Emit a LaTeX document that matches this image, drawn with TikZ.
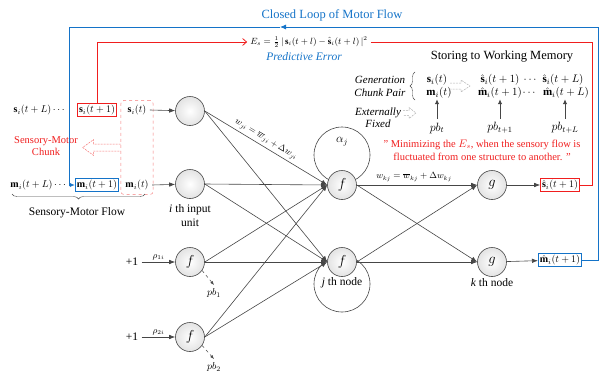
\documentclass[tikz,border=0pt]{standalone}
\usepackage{amsmath}
\usepackage{fontspec}
\setmainfont{Liberation Serif}
\usetikzlibrary{arrows.meta,calc,decorations.pathreplacing,fit,backgrounds}
\definecolor{lineg}{RGB}{70,70,70}
\definecolor{loopblue}{RGB}{20,115,200}
\definecolor{errred}{RGB}{240,30,30}
\definecolor{pinkd}{RGB}{245,120,120}
\begin{document}
\begin{tikzpicture}[x=1pt,y=-1pt,
  neuron/.style={circle,draw=lineg,line width=0.6pt,inner color=white,outer color=gray!22,minimum size=29pt,inner sep=0pt,font=\Large},
  conn/.style={draw=lineg,line width=0.6pt,-{Latex[length=6pt,width=4.5pt]}},
  redbox/.style={draw=errred,line width=0.8pt,inner sep=1.5pt},
  bluebox/.style={draw=loopblue,line width=0.8pt,inner sep=1.5pt},
  redline/.style={draw=errred,line width=0.8pt},
  blueline/.style={draw=loopblue,line width=0.8pt},
  hollow/.style={dashed,line width=0.5pt,dash pattern=on 2pt off 1pt},
  pbarrow/.style={draw=lineg,dashed,line width=0.5pt,-{Latex[length=4pt,width=3pt]}},
  uparrow/.style={draw=lineg,line width=1pt,-{Latex[length=5pt,width=4.5pt]}},
  txt/.style={font=\fontsize{11.5}{13}\selectfont},
  wmrow/.style={inner sep=0.5pt,font=\fontsize{11}{12}\selectfont},
  ]
\useasboundingbox (0,0) rectangle (602,375);

% title and loop
\node[text=loopblue,font=\fontsize{12.5}{14}\selectfont] (title) at (332,15) {Closed Loop of Motor Flow};

% left data
\node (sL) at (40,110) {$\mathbf{s}_i(t+L)\cdots$};
\node[redbox] (s1) at (97,110) {$\mathbf{s}_i(t+1)$};
\node (st) at (137,110) {$\mathbf{s}_i(t)$};
\node (mL) at (39,185) {$\mathbf{m}_i(t+L)\cdots$};
\node[bluebox] (m1) at (97,185) {$\mathbf{m}_i(t+1)$};
\node (mt) at (137,185) {$\mathbf{m}_i(t)$};
\node[fit=(st)(mt),draw=pinkd,dashed,rounded corners=3pt,inner sep=1pt,line width=0.5pt] (chunk) {};
\draw[pinkd,hollow] ($(chunk.west)+(0,-3.5)$) -- ++(-27,0) -- ++(0,-4.5) -- ++(-11,8) -- ++(11,8) -- ++(0,-4.5) -- ++(27,0);
\node[text=errred,align=center,font=\fontsize{10.5}{12}\selectfont] (chtxt) at (46,146) {Sensory-Motor\\Chunk};
\draw[lineg,decorate,decoration={brace,mirror,amplitude=5pt}] (12,194) -- (145,194);
\node[txt] (flow) at (77,213) {Sensory-Motor Flow};

% neurons
\node[neuron] (in1) at (190,111) {};
\node[neuron] (in2) at (190,184) {};
\node[neuron] (b1) at (190,262) {$f$};
\node[neuron] (b2) at (190,337) {$f$};
\node[neuron] (h1) at (342,185) {$f$};
\node[neuron] (h2) at (342,262) {$f$};
\node[neuron] (o1) at (492,185) {$g$};
\node[neuron] (o2) at (492,262) {$g$};

\begin{scope}[on background layer]
\draw[lineg,line width=0.6pt] ($(h1)+(0,-30)$) circle[radius=28pt];
\draw[lineg,line width=0.6pt] ($(h2)+(0,22)$) circle[radius=28pt];
\end{scope}
\node[font=\large] (alpha) at (342,142) {$\alpha_j$};
\node[txt] (jth) at (342,283) {\textit{j} th node};
\node[txt] (kth) at (492,283) {\textit{k} th node};
\node[txt,align=center] (ith) at (190,216) {\textit{i} th input\\[1pt]unit};

\draw[conn] (st.east) -- (in1);
\draw[conn] (mt.east) -- (in2);
\node[txt] (p1) at (132,262) {+1};
\node[txt] (p2) at (132,337) {+1};
\draw[conn] (p1.east) -- node[above,font=\small,inner sep=1pt] {$\rho_{1i}$} (b1);
\draw[conn] (p2.east) -- node[above,font=\small,inner sep=1pt] {$\rho_{2i}$} (b2);
\node (pb1) at (214,293) {$pb_1$};
\node (pb2) at (214,367) {$pb_2$};
\draw[pbarrow] (b1.-35) -- (pb1.north);
\draw[pbarrow] (b2.-35) -- (pb2.north);

\foreach \s in {in1,in2,b1,b2}{
  \draw[conn] (\s.east) -- (h1.west);
  \draw[conn] (\s.east) -- (h2.west);
}
\foreach \s in {h1,h2}{
  \draw[conn] (\s.east) -- (o1.west);
  \draw[conn] (\s.east) -- (o2.west);
}
\path (in1.east) -- node[sloped,above,pos=0.47,font=\small,inner sep=3pt] {$w_{ji}=\overline{w}_{ji}+\Delta w_{ji}$} (h1.west);
\node[font=\small] (wkj) at (414,177) {$w_{kj}=\overline{w}_{kj}+\Delta w_{kj}$};

\node[redbox] (sh) at (560,185) {$\hat{\mathbf{s}}_i(t+1)$};
\node[bluebox] (mh) at (560,260) {$\hat{\mathbf{m}}_i(t+1)$};
\draw[conn] (o1) -- (sh);
\draw[conn] (o2) -- (mh);

% error path
\node[font=\small,inner sep=3pt] (Es) at (309,42) {$E_s=\tfrac{1}{2}\,|\,\mathbf{s}_i(t+l)-\hat{\mathbf{s}}_i(t+l)\,|^2$};
\node[text=loopblue,font=\fontsize{11.5}{13}\selectfont\itshape] (pe) at (304,57) {Predictive Error};
\coordinate (rr) at (592,185);
\draw[redline,-{Straight Barb[length=4pt,width=7pt]}] (s1.north) |- (Es.west);
\draw[redline] (Es.east) -| (rr) -- (sh.east);

% closed loop
\coordinate (tr) at (598,27);
\coordinate (tm) at (280,27);
\coordinate (tl) at (69,27);
\draw[blueline,-{Latex[length=6pt,width=5pt]}] (mh.east) -| (tr) -- (tm);
\draw[blueline,-{Latex[length=5pt,width=4pt]}] (tm) -- (tl) |- (m1.west);

% working memory
\node[font=\fontsize{12.5}{14}\selectfont] (wm) at (502,57) {Storing to Working Memory};
\node[txt,font=\fontsize{11}{13}\selectfont\itshape,align=center] (gen) at (380,86) {Generation\\Chunk Pair};
\draw[lineg,decorate,decoration={brace,amplitude=5pt}] (415,100) -- (415,72);
\node[wmrow] (wst) at (437,80) {$\mathbf{s}_i(t)$};
\node[wmrow] (wmt) at (439,93) {$\mathbf{m}_i(t)$};
\draw[gray!60,hollow] (450,83) -- ++(11,0) -- ++(0,-3) -- ++(9,6) -- ++(-9,6) -- ++(0,-3) -- ++(-11,0);
\node[wmrow] (sh1) at (500,80) {$\hat{\mathbf{s}}_i(t+1)$};
\node[wmrow] (shd) at (531,80) {$\cdots$};
\node[wmrow] (shL) at (563,80) {$\hat{\mathbf{s}}_i(t+L)$};
\node[wmrow] (mh1) at (500,93) {$\hat{\mathbf{m}}_i(t+1)$};
\node[wmrow] (mhd) at (530,93) {$\cdots$};
\node[wmrow] (mhL) at (566,93) {$\hat{\mathbf{m}}_i(t+L)$};
\node[font=\large] (pbt) at (437,128) {$pb_t$};
\node[font=\large] (pbt1) at (500,128) {$pb_{t+1}$};
\node[font=\large] (pbtL) at (565,128) {$pb_{t+L}$};
\draw[uparrow] (pbt.north) -- (pbt.north |- wmt.south);
\draw[uparrow] (pbt1.north) -- (pbt1.north |- mh1.south);
\draw[uparrow] (pbtL.north) -- (pbtL.north |- mhL.south);
\node[font=\fontsize{11}{12}\selectfont\itshape,align=center] (ext) at (378,118) {Externally\\Fixed};
\draw[gray!60,hollow] (403,110.5) -- ++(6,0) -- ++(0,-3) -- ++(7,5.5) -- ++(-7,5.5) -- ++(0,-3) -- ++(-6,0);
\node[text=errred,align=center,font=\fontsize{10.5}{13}\selectfont] (quote) at (482,150) {" Minimizing the $E_s$, when the sensory flow is\\fluctuated from one structure to another. "};
\end{tikzpicture}
\end{document}
